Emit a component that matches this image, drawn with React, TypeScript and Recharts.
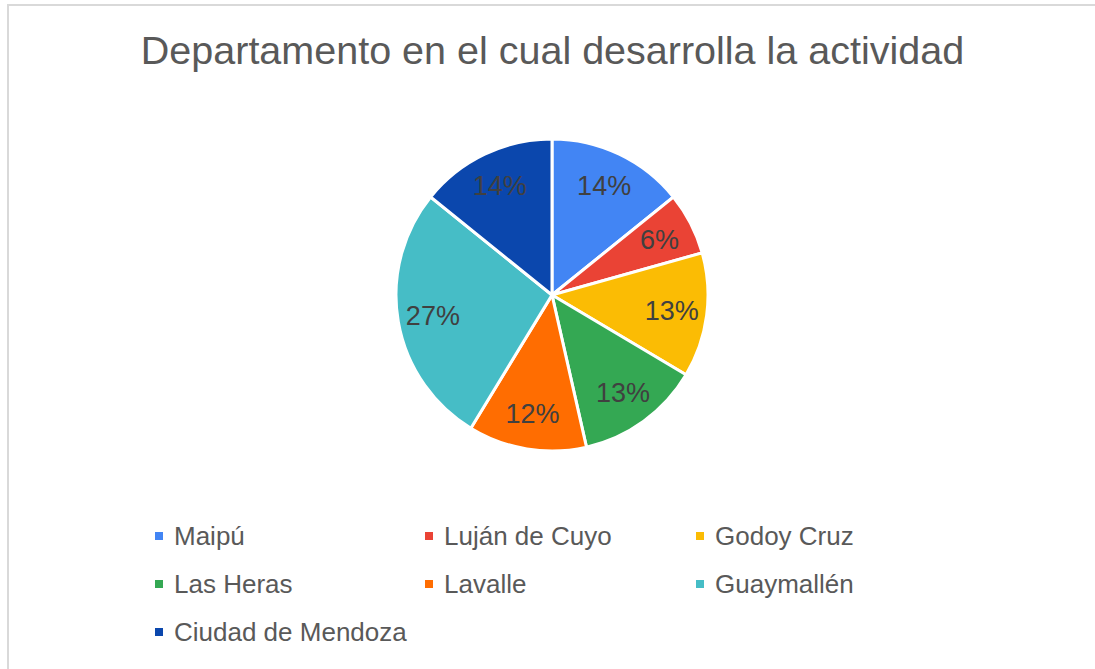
import { Cell, Legend, Pie, PieChart } from "recharts";

const departments = [
  "Maipú",
  "Luján de Cuyo",
  "Godoy Cruz",
  "Las Heras",
  "Lavalle",
  "Guaymallén",
  "Ciudad de Mendoza",
];
const counts = [22, 10, 20, 20, 19, 42, 22];
const colors = [
  "#4285f4",
  "#ea4335",
  "#fbbc04",
  "#34a853",
  "#ff6d01",
  "#46bdc6",
  "#0b47ad",
];

const data = departments.map((name, i) => ({ name, value: counts[i] }));

const RADIAN = Math.PI / 180;
const FONT = "'Liberation Sans', Arial, sans-serif";

function renderLabel(props: any) {
  const { cx, cy, midAngle, outerRadius, percent } = props;
  const r = outerRadius * 0.775;
  const x = cx + r * Math.cos(-midAngle * RADIAN);
  const y = cy + r * Math.sin(-midAngle * RADIAN);
  return (
    <text
      x={x}
      y={y}
      fill="#404040"
      fontSize={27}
      fontFamily={FONT}
      textAnchor="middle"
      dominantBaseline="central"
    >
      {`${Math.round(percent * 100)}%`}
    </text>
  );
}

function LegendGrid() {
  return (
    <div
      style={{
        display: "grid",
        gridTemplateColumns: "270px 271px 270px",
        rowGap: 18,
        fontFamily: FONT,
        fontSize: 26,
        color: "#595959",
        lineHeight: "30px",
      }}
    >
      {departments.map((d, i) => (
        <div key={d} style={{ display: "flex", alignItems: "center" }}>
          <span
            style={{
              width: 8,
              height: 8,
              background: colors[i],
              marginRight: 11,
              display: "inline-block",
            }}
          />
          {d}
        </div>
      ))}
    </div>
  );
}

export default function App() {
  return (
    <div
      style={{
        position: "fixed",
        left: 0,
        top: 0,
        width: 1095,
        height: 669,
        background: "#fff",
        overflow: "hidden",
      }}
    >
      <div
        style={{
          position: "absolute",
          left: 7,
          top: 4,
          right: 0,
          bottom: 0,
          borderTop: "2px solid #d9d9d9",
          borderLeft: "2px solid #d9d9d9",
        }}
      />
      <div
        style={{
          position: "absolute",
          left: 0,
          width: 1105,
          top: 28,
          textAlign: "center",
          fontFamily: FONT,
          fontSize: 39.5,
          color: "#595959",
          whiteSpace: "nowrap",
        }}
      >
        Departamento en el cual desarrolla la actividad
      </div>
      <div style={{ position: "absolute", left: 0, top: 0 }}>
        <PieChart width={1095} height={669}>
          <Pie
            data={data}
            dataKey="value"
            nameKey="name"
            cx={547}
            cy={290}
            outerRadius={156}
            startAngle={90}
            endAngle={-270}
            stroke="#ffffff"
            strokeWidth={3}
            label={renderLabel}
            labelLine={false}
            isAnimationActive={false}
          >
            {data.map((d, i) => (
              <Cell key={d.name} fill={colors[i]} />
            ))}
          </Pie>
          <Legend
            content={() => <LegendGrid />}
            wrapperStyle={{ position: "absolute", left: 155, top: 521, width: 830 }}
          />
        </PieChart>
      </div>
    </div>
  );
}
